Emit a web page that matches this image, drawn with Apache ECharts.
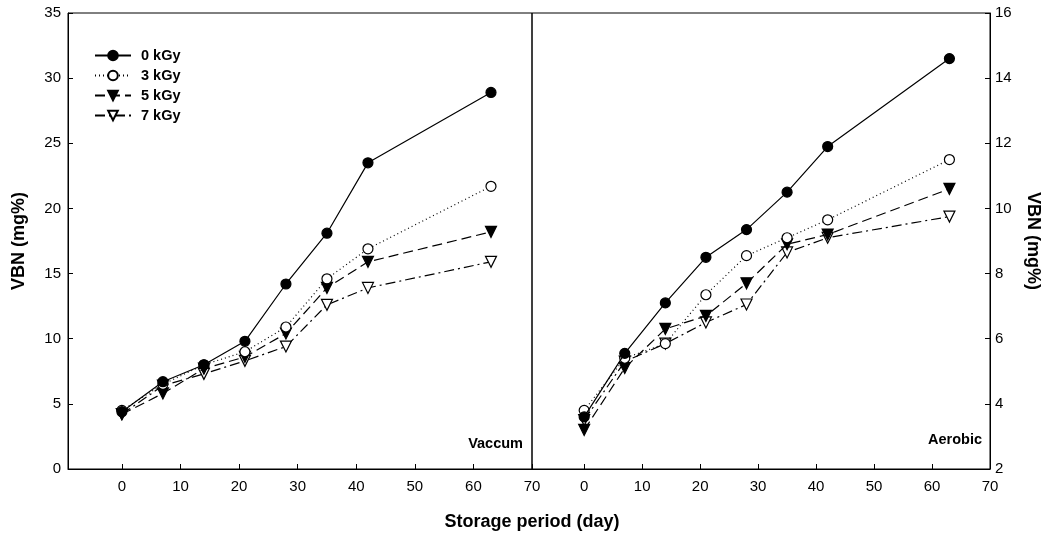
<!DOCTYPE html>
<html>
<head>
<meta charset="utf-8">
<script src="https://cdn.jsdelivr.net/npm/echarts@6/dist/echarts.min.js"></script>
<style>
  html, body { margin: 0; padding: 0; background: #fff; }
  #chart { width: 1046px; height: 542px; }
</style>
</head>
<body>
<div id="chart"></div>
<script>
// storage days
const days = [0, 7, 14, 21, 28, 35, 42, 63];
const doseNames = ["0 kGy", "3 kGy", "5 kGy", "7 kGy"];
const xTicks = [0, 10, 20, 30, 40, 50, 60, 70];

// Vaccum packaging (left axis, 0-35)
const vac0 = [4.4, 6.7, 8.0, 9.8, 14.2, 18.1, 23.5, 28.9];
const vac3 = [4.5, 6.5, 8.0, 9.0, 10.9, 14.6, 16.9, 21.7];
const vac5 = [4.2, 5.8, 7.7, 8.6, 10.4, 13.9, 15.9, 18.2];
const vac7 = [4.2, 6.4, 7.3, 8.3, 9.4, 12.6, 13.9, 15.9];

// Aerobic packaging (right axis, 2-16)
const aer0 = [3.6, 5.55, 7.1, 8.5, 9.35, 10.5, 11.9, 14.6];
const aer3 = [3.8, 5.4, 5.85, 7.35, 8.55, 9.1, 9.65, 11.5];
const aer5 = [3.2, 5.1, 6.3, 6.7, 7.7, 8.9, 9.2, 10.6];
const aer7 = [3.5, 5.3, 5.85, 6.5, 7.05, 8.65, 9.1, 9.75];

const font = "'Liberation Sans', Arial, sans-serif";

// marker / line look for each dose
const styles = [
  { symbol: "circle", size: 10, fill: "#000", rotate: 0, dash: "solid" },
  { symbol: "circle", size: 10, fill: "#fff", rotate: 0, dash: [1, 3] },
  { symbol: "triangle", size: 11, fill: "#000", rotate: 180, dash: [10, 5] },
  { symbol: "triangle", size: 11, fill: "#fff", rotate: 180, dash: [10, 4, 2, 4] },
];

function makeSeries(name, values, idx, panel) {
  const s = styles[idx];
  return {
    name: name,
    type: "line",
    xAxisIndex: panel,
    yAxisIndex: panel,
    data: days.map((d, i) => [d, values[i]]),
    symbol: s.symbol,
    symbolSize: s.size,
    symbolRotate: s.rotate,
    showAllSymbol: true,
    lineStyle: { color: "#000", width: 1.2, type: s.dash },
    itemStyle: { color: s.fill, borderColor: "#000", borderWidth: 1.2 },
    z: 10 - idx,
  };
}

const seriesArr = [
  makeSeries(doseNames[0], vac0, 0, 0),
  makeSeries(doseNames[1], vac3, 1, 0),
  makeSeries(doseNames[2], vac5, 2, 0),
  makeSeries(doseNames[3], vac7, 3, 0),
  makeSeries(doseNames[0], aer0, 0, 1),
  makeSeries(doseNames[1], aer3, 1, 1),
  makeSeries(doseNames[2], aer5, 2, 1),
  makeSeries(doseNames[3], aer7, 3, 1),
];

const axisLabel = { color: "#000", fontFamily: font, fontSize: 15, margin: 10 };
const yLabel = { color: "#000", fontFamily: font, fontSize: 15, margin: 7 };
const nameStyle = { fontFamily: font, fontSize: 18, fontWeight: "bold", color: "#000" };

function xAxisFor(idx, min) {
  return {
    type: "value",
    gridIndex: idx,
    min: min,
    max: 70,
    axisLine: { onZero: false, lineStyle: { color: "#000", width: 1 } },
    axisTick: { inside: true, length: 5, customValues: xTicks, lineStyle: { color: "#000" } },
    axisLabel: Object.assign({ customValues: xTicks }, axisLabel),
    splitLine: { show: false },
  };
}

const chart = echarts.init(document.getElementById("chart"));
chart.setOption({
  animation: false,
  backgroundColor: "#fff",
  grid: [
    { left: 68, top: 13, width: 464, height: 456, show: true, borderColor: "#000", borderWidth: 1 },
    { left: 532, top: 13, width: 458, height: 456, show: true, borderColor: "#000", borderWidth: 1 },
  ],
  legend: {
    data: doseNames,
    orient: "vertical",
    left: 89,
    top: 43,
    itemWidth: 36,
    itemHeight: 12,
    itemGap: 5,
    textStyle: { fontFamily: font, fontSize: 14.5, fontWeight: "bold", color: "#000", padding: [0, 0, 0, 5] },
  },
  xAxis: [xAxisFor(0, -9.2), xAxisFor(1, -9)],
  yAxis: [
    {
      type: "value",
      gridIndex: 0,
      min: 0,
      max: 35,
      interval: 5,
      name: "VBN (mg%)",
      nameLocation: "middle",
      nameRotate: 90,
      nameGap: 40,
      nameTextStyle: nameStyle,
      axisLine: { show: true, onZero: false, lineStyle: { color: "#000" } },
      axisTick: { inside: true, length: 5, lineStyle: { color: "#000" } },
      axisLabel: yLabel,
      splitLine: { show: false },
    },
    {
      type: "value",
      gridIndex: 1,
      position: "right",
      min: 2,
      max: 16,
      interval: 2,
      name: "VBN (mg%)",
      nameLocation: "middle",
      nameRotate: -90,
      nameGap: 34,
      nameTextStyle: nameStyle,
      axisLine: { show: true, onZero: false, lineStyle: { color: "#000" } },
      axisTick: { inside: true, length: 5, lineStyle: { color: "#000" } },
      axisLabel: Object.assign({}, yLabel, { margin: 5 }),
      splitLine: { show: false },
    },
  ],
  graphic: [
    {
      type: "text",
      right: 1046 - 523,
      top: 436,
      style: { text: "Vaccum", font: "bold 14.5px " + font, fill: "#000" },
    },
    {
      type: "text",
      right: 1046 - 982,
      top: 432,
      style: { text: "Aerobic", font: "bold 14.5px " + font, fill: "#000" },
    },
    {
      type: "text",
      x: 532,
      y: 513,
      style: { text: "Storage period (day)", font: "bold 18px " + font, fill: "#000", align: "center" },
    },
  ],
  series: seriesArr,
});
window.onresize = chart.resize;
</script>
</body>
</html>
